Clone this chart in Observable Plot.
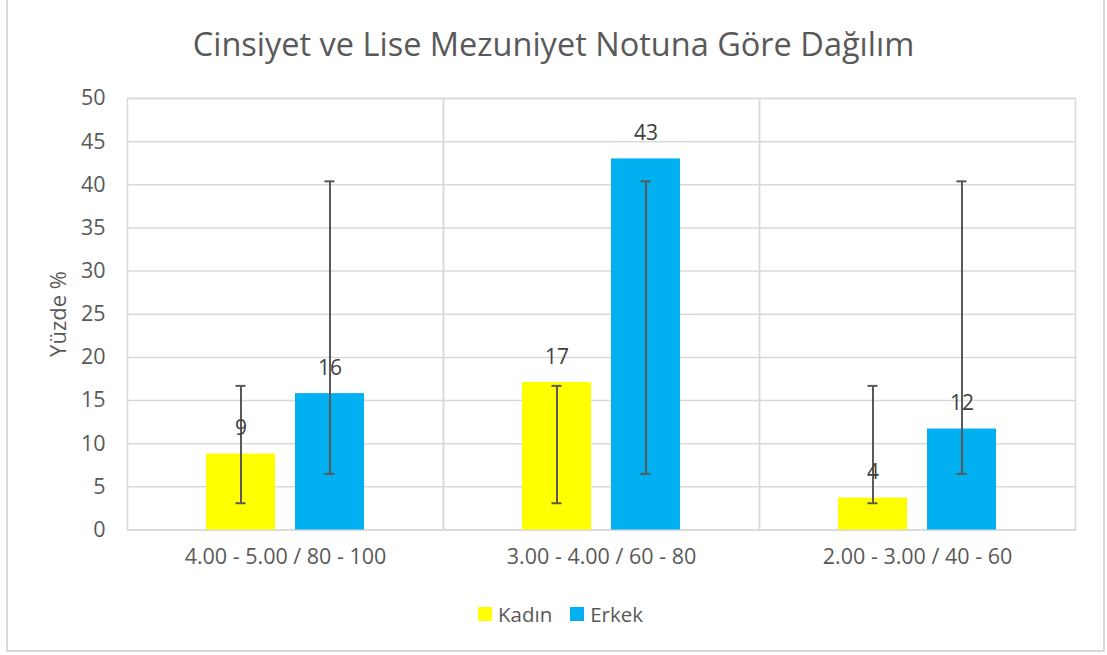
<!DOCTYPE html>
<html>
<head>
<meta charset="utf-8">
<script src="https://cdn.jsdelivr.net/npm/d3@7"></script>
<script src="https://cdn.jsdelivr.net/npm/@observablehq/plot@0.6"></script>
<style>
  html, body { margin: 0; padding: 0; background: #fff; }
  #wrap { position: relative; width: 1107px; height: 655px; overflow: hidden; font-family: "Open Sans", sans-serif; color: #595959; }
  #border { position: absolute; left: 6px; top: -4px; width: 1099px; height: 656px; border: 2px solid #d9d9d9; box-sizing: border-box; }
  #title { position: absolute; left: 0; width: 1107px; top: 22px; text-align: center; font-size: 32.5px; line-height: 44px; color: #595959; }
  #chart { position: absolute; left: 0; top: 70px; }
  #ylabel { position: absolute; left: 57px; top: 314px; transform: translate(-50%, -50%) rotate(-90deg); font-size: 22px; white-space: nowrap; color: #595959; }
  #legend { position: absolute; left: 7px; width: 1107px; top: 599px; display: flex; justify-content: center; align-items: center; font-size: 20.5px; line-height: 30px; }
  .item { display: flex; align-items: center; margin: 0 9px; }
  .sw { width: 14px; height: 14px; margin-right: 6px; }
</style>
</head>
<body>
<div id="wrap">
  <div id="border"></div>
  <div id="title"></div>
  <div id="chart"></div>
  <div id="ylabel"></div>
  <div id="legend"></div>
</div>
<script>
const title = "Cinsiyet ve Lise Mezuniyet Notuna Göre Dağılım";
const yLabel = "Yüzde %";
const categories = ["4.00 - 5.00 / 80 - 100", "3.00 - 4.00 / 60 - 80", "2.00 - 3.00 / 40 - 60"];
const series = ["Kadın", "Erkek"];
const colors = ["#FFFF00", "#00B0F0"];
const kadin = [8.8, 17.1, 3.7];
const erkek = [15.8, 43.0, 11.7];
const errorLow = [3.1, 6.5];   // per series: Kadın, Erkek
const errorHigh = [16.7, 40.4];
const yTicks = [0, 5, 10, 15, 20, 25, 30, 35, 40, 45, 50];

const values = [kadin, erkek];
const data = [];
categories.forEach((c, i) => {
  series.forEach((s, j) => {
    data.push({cat: c, series: s, value: values[j][i], lo: errorLow[j], hi: errorHigh[j], label: String(Math.round(values[j][i]))});
  });
});

document.getElementById("title").textContent = title;
document.getElementById("ylabel").textContent = yLabel;
const legend = document.getElementById("legend");
series.forEach((s, j) => {
  const it = document.createElement("div");
  it.className = "item";
  const sw = document.createElement("div");
  sw.className = "sw";
  sw.style.background = colors[j];
  const tx = document.createElement("span");
  tx.textContent = s;
  it.appendChild(sw); it.appendChild(tx);
  legend.appendChild(it);
});

const grid = "#d9d9d9";
const errColor = "#595959";

const chart = Plot.plot({
  width: 1107,
  height: 520,
  marginLeft: 127,
  marginRight: 32,
  marginTop: 28,
  marginBottom: 60.5,
  style: {fontFamily: "'Open Sans', sans-serif", fontSize: "21.5px", color: "#595959", background: "transparent"},
  fx: {domain: categories, padding: 0, label: null, axis: "bottom", tickSize: 0, tickPadding: 19},
  x: {domain: series, paddingInner: 0.2222, paddingOuter: 0.8667, axis: null},
  y: {domain: [0, 50], ticks: yTicks, tickSize: 0, tickPadding: 22, label: null},
  color: {domain: series, range: colors},
  marks: [
    Plot.ruleY(yTicks, {y: d => d, stroke: grid, strokeWidth: 1.5}),
    Plot.frame({stroke: grid, strokeWidth: 1.5}),
    Plot.barY(data, {fx: "cat", x: "series", y: "value", fill: "series"}),
    Plot.ruleX(data, {fx: "cat", x: "series", y1: "lo", y2: "hi", stroke: errColor, strokeWidth: 2}),
    Plot.tickY(data, {fx: "cat", x: "series", y: "lo", insetLeft: 29.5, insetRight: 29.5, stroke: errColor, strokeWidth: 2}),
    Plot.tickY(data, {fx: "cat", x: "series", y: "hi", insetLeft: 29.5, insetRight: 29.5, stroke: errColor, strokeWidth: 2}),
    Plot.text(data, {fx: "cat", x: "series", y: "value", text: "label", dy: -25.5, lineAnchor: "middle", fill: "#404040", fontSize: 21})
  ]
});
document.getElementById("chart").appendChild(chart);
</script>
</body>
</html>
